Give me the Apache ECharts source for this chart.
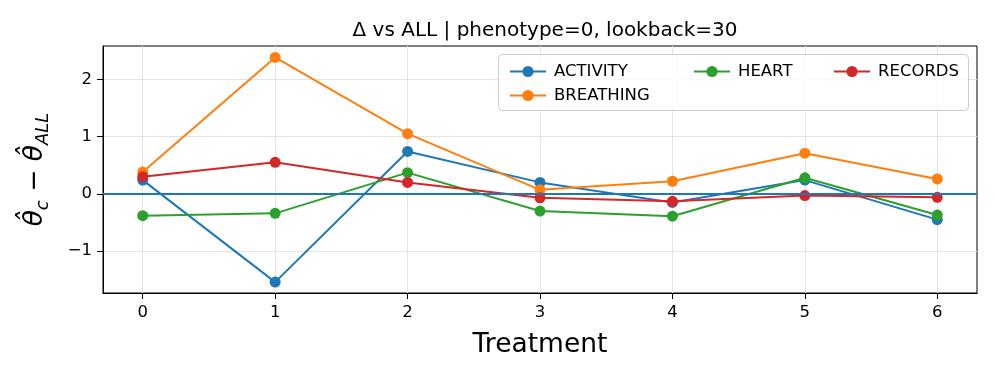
<!DOCTYPE html>
<html>
  <head>
    <meta charset="utf-8" />
    <title>Delta vs ALL</title>
    <script src="https://cdn.jsdelivr.net/npm/echarts@6.0.0/dist/echarts.min.js"></script>
  </head>
  <body style="margin:0">
    <div id="main" style="width:996px;height:374px;"></div>
    <script type="text/javascript">
// treatments on the x axis
const treatments = [0, 1, 2, 3, 4, 5, 6];
const activity  = [0.24, -1.54, 0.74, 0.20, -0.15, 0.24, -0.45];
const breathing = [0.38, 2.38, 1.05, 0.07, 0.22, 0.71, 0.26];
const heart     = [-0.38, -0.34, 0.37, -0.30, -0.39, 0.28, -0.37];
const records   = [0.30, 0.55, 0.20, -0.07, -0.13, -0.03, -0.06];
const xTicks = [0, 1, 2, 3, 4, 5, 6];
const yTicks = [-1, 0, 1, 2];

const FONT = 'DejaVu Sans';
const colors = ['#1f77b4', '#ff7f0e', '#2ca02c', '#d62728'];

function pairs(vals) {
  return treatments.map(function (t, i) { return [t, vals[i]]; });
}

function lineSeries(name, vals, color) {
  return {
    name: name,
    type: 'line',
    data: pairs(vals),
    symbol: 'circle',
    symbolSize: 11,
    lineStyle: { color: color, width: 2 },
    itemStyle: { color: color },
    emphasis: { disabled: true },
    animation: false
  };
}

var chartDom = document.getElementById('main');
var myChart = echarts.init(chartDom);

var series = [
  lineSeries('ACTIVITY', activity, colors[0]),
  lineSeries('BREATHING', breathing, colors[1]),
  lineSeries('HEART', heart, colors[2]),
  lineSeries('RECORDS', records, colors[3])
];
// horizontal reference line at 0
series[0].markLine = {
  silent: true,
  symbol: ['none', 'none'],
  label: { show: false },
  lineStyle: { color: colors[0], width: 2, type: 'solid' },
  data: [{ yAxis: 0 }],
  animation: false
};

function legendAt(names, left) {
  return {
    data: names,
    orient: 'vertical',
    left: left,
    top: 58,
    itemWidth: 36,
    itemHeight: 14,
    itemGap: 7,
    z: 12,
    selectedMode: false,
    textStyle: { fontFamily: FONT, fontSize: 16.5, color: '#000', padding: [0, 0, 0, 3] }
  };
}

var option = {
  animation: false,
  title: {
    text: 'Δ vs ALL | phenotype=0, lookback=30',
    left: 540,
    textAlign: 'center',
    top: 16,
    textStyle: { fontFamily: FONT, fontSize: 20, fontWeight: 'normal', color: '#000' }
  },
  grid: {
    left: 103, right: 19, top: 46, bottom: 81,
    show: true, borderColor: '#000', borderWidth: 1
  },
  legend: [
    legendAt(['ACTIVITY', 'BREATHING'], 504),
    legendAt(['HEART'], 688),
    legendAt(['RECORDS'], 828)
  ],
  graphic: [{
    type: 'rect',
    z: 10,
    shape: { x: 498.5, y: 54.5, width: 470, height: 56, r: 4 },
    style: { fill: 'rgba(255,255,255,0.8)', stroke: '#cccccc', lineWidth: 1 }
  }],
  xAxis: {
    type: 'value',
    min: -0.3,
    max: 6.3,
    splitNumber: 6,
    name: 'Treatment',
    nameLocation: 'middle',
    nameGap: 39,
    nameTextStyle: { fontFamily: FONT, fontSize: 26.5, color: '#000' },
    axisLine: { show: true, onZero: false, lineStyle: { color: '#000' } },
    axisTick: { show: true, length: 6, customValues: xTicks, lineStyle: { color: '#000' } },
    axisLabel: { customValues: xTicks, margin: 11, fontFamily: FONT, fontSize: 16.5, color: '#000' },
    splitLine: { show: true, lineStyle: { color: '#e3e3e3', width: 1 } }
  },
  yAxis: {
    type: 'value',
    min: -1.73,
    max: 2.58,
    splitNumber: 4,
    name: '{m|θ̂}{s|c}{m| − θ̂}{s|ALL}',
    nameLocation: 'middle',
    nameRotate: 90,
    nameGap: 51,
    nameTextStyle: {
      fontFamily: FONT,
      color: '#000',
      rich: {
        m: { fontFamily: FONT, fontStyle: 'italic', fontSize: 26.5, lineHeight: 34, color: '#000' },
        s: { fontFamily: FONT, fontStyle: 'italic', fontSize: 18, lineHeight: 18, verticalAlign: 'bottom', color: '#000' }
      }
    },
    axisLine: { show: true, onZero: false, lineStyle: { color: '#000' } },
    axisTick: { show: true, length: 6, customValues: yTicks, lineStyle: { color: '#000' } },
    axisLabel: {
      customValues: yTicks,
      margin: 11,
      fontFamily: FONT,
      fontSize: 16.5,
      color: '#000',
      formatter: function (v) { return v < 0 ? '\u2212' + Math.abs(v) : String(v); }
    },
    splitLine: { show: true, lineStyle: { color: '#e3e3e3', width: 1 } }
  },
  series: series
};

myChart.setOption(option);
    </script>
  </body>
</html>
